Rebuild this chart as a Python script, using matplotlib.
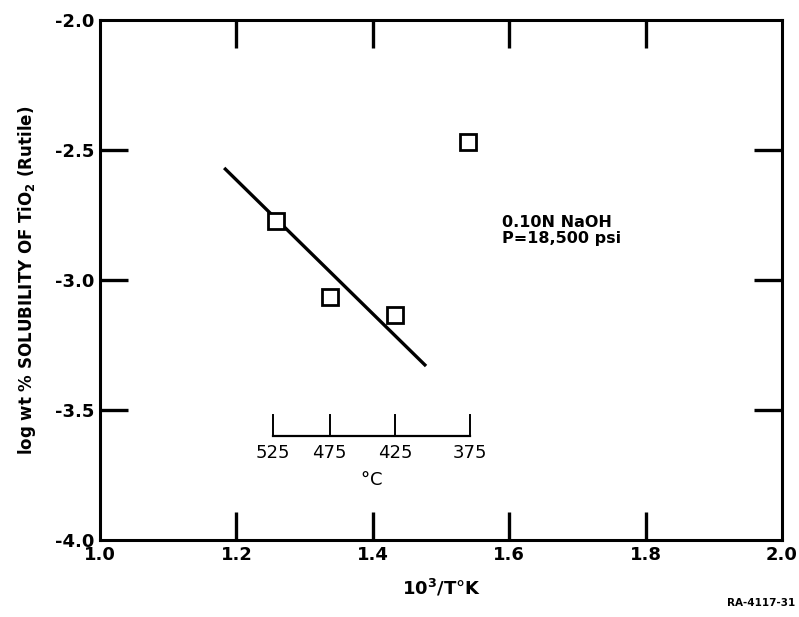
import matplotlib.pyplot as plt
import numpy as np

# data
inv_T = [1.258, 1.337, 1.433, 1.540]
log_sol = [-2.773, -3.065, -3.135, -2.468]

fit_x = [1.182, 1.478]
fit_y = [-2.569, -3.331]

celsius_ticks = [525, 475, 425, 375]

plt.rcParams['font.family'] = ['DejaVu Sans']
plt.rcParams['font.weight'] = 'bold'

fig = plt.figure(figsize=(7.99, 6.17), dpi=100)
ax = fig.add_axes([0.1252, 0.1248, 0.8536, 0.8428])

ax.plot(fit_x, fit_y, color='black', lw=2.4, solid_capstyle='butt')
ax.plot(inv_T, log_sol, ls='none', marker='s', ms=11, mfc='white',
        mec='black', mew=2.0)

ax.set_xlim(1.0, 2.0)
ax.set_ylim(-4.0, -2.0)
ax.set_xticks([1.0, 1.2, 1.4, 1.6, 1.8, 2.0])
ax.set_yticks([-4.0, -3.5, -3.0, -2.5, -2.0])
ax.set_xticklabels(['1.0', '1.2', '1.4', '1.6', '1.8', '2.0'])
ax.set_yticklabels(['-4.0', '-3.5', '-3.0', '-2.5', '-2.0'])
ax.tick_params(direction='in', length=20, width=2.4, top=True, right=True,
               labelsize=13, pad=4)
for sp in ax.spines.values():
    sp.set_linewidth(2.2)

# no tick marks at the corners, only labels
for axis in (ax.xaxis, ax.yaxis):
    ticks = axis.get_major_ticks()
    for t in (ticks[0], ticks[-1]):
        t.tick1line.set_visible(False)
        t.tick2line.set_visible(False)

ax.set_xlabel('10$^3$/T$\\degree$K', fontsize=13, fontweight='bold', labelpad=10)
ax.set_ylabel('log wt % SOLUBILITY OF TiO$_2$ (Rutile)', fontsize=12,
              fontweight='bold', labelpad=12)

# inset celsius scale
cx = [1000.0 / (c + 273.15) for c in celsius_ticks]
ax.plot([cx[0], cx[-1]], [-3.6, -3.6], color='black', lw=1.6)
for x, c in zip(cx, celsius_ticks):
    ax.plot([x, x], [-3.6, -3.52], color='black', lw=1.4)
    ax.text(x, -3.665, str(c), ha='center', va='center', fontsize=13,
            fontweight='normal')
ax.text(1.398, -3.77, '$\\degree$C', ha='center', va='center', fontsize=13,
        fontweight='normal')

ax.text(1.589, -2.81, '0.10N NaOH\nP=18,500 psi', ha='left', va='center',
        fontsize=11.5, linespacing=1.15)

fig.text(0.995, 0.015, 'RA-4117-31', ha='right', va='bottom', fontsize=7.5,
         fontweight='bold')

fig.savefig('out.png', dpi=100)
